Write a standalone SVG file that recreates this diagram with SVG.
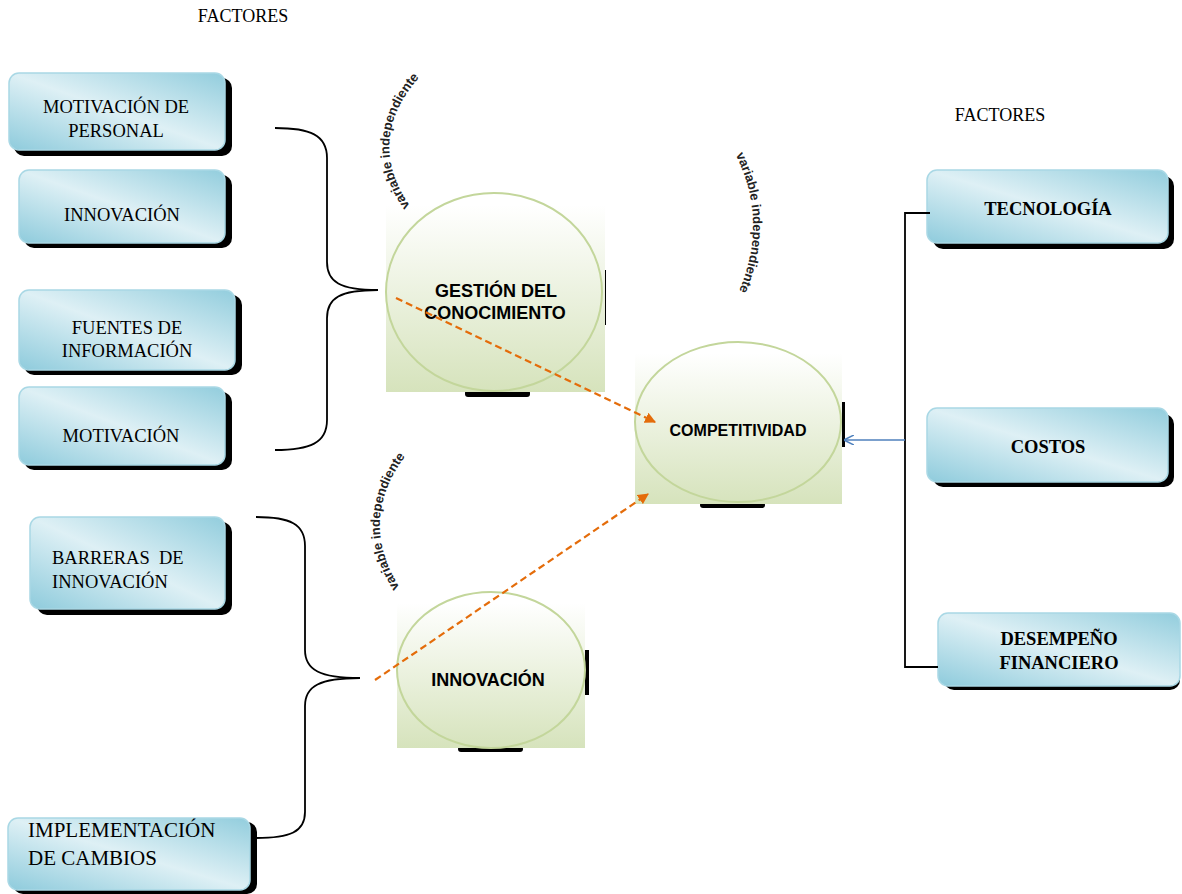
<svg xmlns="http://www.w3.org/2000/svg" width="1182" height="894" viewBox="0 0 1182 894">
<defs>
<linearGradient id="boxg" x1="0" y1="1" x2="1" y2="0">
<stop offset="0" stop-color="#8ecbdc"/>
<stop offset="0.5" stop-color="#def0f5"/>
<stop offset="1" stop-color="#92cddd"/>
</linearGradient>
<linearGradient id="ellg" x1="0" y1="0" x2="0" y2="1">
<stop offset="0" stop-color="#ffffff"/>
<stop offset="1" stop-color="#d6e3bc"/>
</linearGradient>
<marker id="oarr" viewBox="0 0 10 10" refX="9" refY="5" markerWidth="5" markerHeight="5" orient="auto" markerUnits="strokeWidth">
<path d="M0,0 L10,5 L0,10 z" fill="#e46c0a"/>
</marker>
<marker id="barr" viewBox="0 0 10 10" refX="9" refY="5" markerWidth="7" markerHeight="7" orient="auto" markerUnits="strokeWidth">
<path d="M0,0 L10,5 L0,10" fill="none" stroke="#4f81bd" stroke-width="1.5"/>
</marker>
<path id="arc1" d="M416,214 Q358,140 426,70"/>
<path id="arc2" d="M732,148 Q772,220 736,298"/>
<path id="arc3" d="M404,594 Q353,520 410,450"/>
</defs>
<style>
.box{fill:url(#boxg);stroke:#a9d8e5;stroke-width:1.5}
.sh{fill:#000}
.t{font-family:"Liberation Serif",serif;font-size:18.5px;fill:#000}
.tl{font-family:"Liberation Serif",serif;font-size:21px;fill:#000}
.tf{font-family:"Liberation Serif",serif;font-size:18px;fill:#000}
.tb{font-family:"Liberation Serif",serif;font-size:18.5px;font-weight:bold;fill:#000}
.et{font-family:"Liberation Sans",Arial,sans-serif;font-weight:bold;fill:#000}
.e18{font-size:18px}
.e16{font-size:16px}
.ell{fill:none;stroke:#c3d69b;stroke-width:2}
.br{fill:none;stroke:#000;stroke-width:1.8}
.dash{fill:none;stroke:#e46c0a;stroke-width:2.2;stroke-dasharray:7,4}
.arc{font-family:"Liberation Sans Narrow","Liberation Sans",sans-serif;font-size:13px;font-weight:bold;fill:#222}
</style>

<text class="tf" x="243" y="22" text-anchor="middle">FACTORES</text>
<text class="tf" x="1000" y="121" text-anchor="middle">FACTORES</text>

<g id="n-motivacion-personal">
<rect class="sh" x="14" y="78" width="218" height="78" rx="10"/>
<rect class="box" x="9" y="73" width="216" height="77" rx="10"/>
<text class="t" x="116" y="113" text-anchor="middle">MOTIVACIÓN DE</text>
<text class="t" x="116" y="137" text-anchor="middle">PERSONAL</text>
</g>
<g id="n-innovacion-box">
<rect class="sh" x="24" y="175" width="208" height="73" rx="10"/>
<rect class="box" x="19" y="170" width="206" height="73" rx="10"/>
<text class="t" x="122" y="221" text-anchor="middle">INNOVACIÓN</text>
</g>
<g id="n-fuentes">
<rect class="sh" x="24" y="295" width="218" height="80" rx="10"/>
<rect class="box" x="19" y="290" width="216" height="80" rx="10"/>
<text class="t" x="127" y="334" text-anchor="middle">FUENTES DE</text>
<text class="t" x="127" y="357" text-anchor="middle">INFORMACIÓN</text>
</g>
<g id="n-motivacion">
<rect class="sh" x="24" y="392" width="208" height="78" rx="10"/>
<rect class="box" x="19" y="387" width="206" height="78" rx="10"/>
<text class="t" x="121" y="442" text-anchor="middle">MOTIVACIÓN</text>
</g>
<g id="n-barreras">
<rect class="sh" x="37" y="522" width="195" height="93" rx="10"/>
<rect class="box" x="30" y="517" width="195" height="92" rx="10"/>
<text class="t" x="52" y="564" xml:space="preserve">BARRERAS  DE</text>
<text class="t" x="52" y="588">INNOVACIÓN</text>
</g>
<g id="n-implementacion">
<rect class="sh" x="13" y="822" width="244" height="72" rx="10"/>
<rect class="box" x="8" y="818" width="242" height="72" rx="10"/>
<text class="tl" x="28" y="837">IMPLEMENTACIÓN</text>
<text class="tl" x="28" y="865">DE CAMBIOS</text>
</g>

<g id="n-tecnologia">
<rect class="sh" x="933" y="176" width="241" height="73" rx="10"/>
<rect class="box" x="927" y="170" width="241" height="73" rx="10"/>
<text class="tb" x="1048" y="215" text-anchor="middle">TECNOLOGÍA</text>
</g>
<g id="n-costos">
<rect class="sh" x="933" y="414" width="241" height="73" rx="10"/>
<rect class="box" x="927" y="408" width="241" height="74" rx="10"/>
<text class="tb" x="1048" y="453" text-anchor="middle">COSTOS</text>
</g>
<g id="n-desempeno">
<rect class="sh" x="944" y="619" width="236" height="71" rx="10"/>
<rect class="box" x="938" y="613" width="242" height="73" rx="10"/>
<text class="tb" x="1059" y="645" text-anchor="middle">DESEMPEÑO</text>
<text class="tb" x="1059" y="669" text-anchor="middle">FINANCIERO</text>
</g>

<g id="n-gestion">
<rect x="465" y="390" width="65" height="7" rx="3" fill="#000"/>
<rect x="602" y="270" width="4" height="55" fill="#000"/>
<rect x="386" y="205" width="219" height="187" fill="url(#ellg)"/>
<ellipse class="ell" cx="494" cy="292" rx="108" ry="99"/>
<text class="et e18" x="496" y="297" text-anchor="middle">GESTIÓN DEL</text>
<text class="et e18" x="495" y="319" text-anchor="middle">CONOCIMIENTO</text>
</g>
<g id="n-competitividad">
<rect x="700" y="502" width="65" height="6" rx="3" fill="#000"/>
<rect x="841" y="402" width="4" height="45" fill="#000"/>
<rect x="635" y="353" width="207" height="151" fill="url(#ellg)"/>
<ellipse class="ell" cx="738" cy="422" rx="103" ry="80"/>
<text class="et e16" x="738" y="436" text-anchor="middle">COMPETITIVIDAD</text>
</g>
<g id="n-innovacion">
<rect x="458" y="746" width="65" height="6" rx="3" fill="#000"/>
<rect x="585" y="650" width="4" height="45" fill="#000"/>
<rect x="397" y="603" width="188" height="145" fill="url(#ellg)"/>
<ellipse class="ell" cx="491" cy="670" rx="94" ry="78"/>
<text class="et e18" x="488" y="686" text-anchor="middle">INNOVACIÓN</text>
</g>

<g id="labels">
<text class="arc"><textPath href="#arc1" startOffset="50%" text-anchor="middle">variable  independiente</textPath></text>
<text class="arc"><textPath href="#arc2" startOffset="50%" text-anchor="middle">variable  independiente</textPath></text>
<text class="arc"><textPath href="#arc3" startOffset="50%" text-anchor="middle">variable  independiente</textPath></text>
</g>

<g id="connectors">
<path class="br" d="M275,128 C310,128 327,135 327,158 L327,262 C327,282 340,290 378,290 C340,290 327,298 327,318 L327,420 C327,443 310,450 275,450"/>
<path class="br" d="M256,517 C290,517 305,524 305,546 L305,650 C305,670 320,678 360,678 C320,678 305,686 305,706 L305,812 C305,832 290,838 256,838"/>
<path class="br" d="M930,213 L905,213 L905,667 L938,667"/>
<line x1="905" y1="440" x2="845" y2="440" stroke="#4f81bd" stroke-width="1.5" marker-end="url(#barr)"/>
<line class="dash" x1="396" y1="298" x2="655" y2="422" marker-end="url(#oarr)"/>
<line class="dash" x1="375" y1="680" x2="648" y2="494" marker-end="url(#oarr)"/>
</g>
</svg>
